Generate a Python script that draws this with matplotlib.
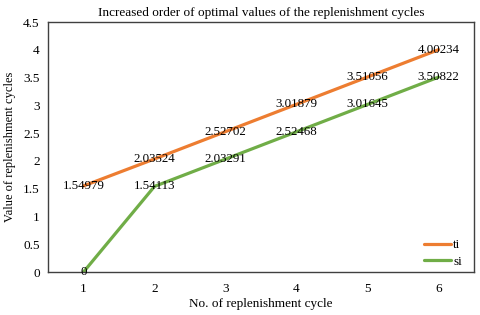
import matplotlib
matplotlib.use("Agg")
import matplotlib.pyplot as plt

cycles = [1, 2, 3, 4, 5, 6]
ti = [1.54979, 2.03524, 2.52702, 3.01879, 3.51056, 4.00234]
si = [0, 1.54113, 2.03291, 2.52468, 3.01645, 3.50822]
labels_ti = ["1.54979", "2.03524", "2.52702", "3.01879", "3.51056", "4.00234"]
labels_si = ["0", "1.54113", "2.03291", "2.52468", "3.01645", "3.50822"]

plt.rcParams['font.family'] = ['Liberation Serif', 'DejaVu Serif']

fig = plt.figure(figsize=(4.8, 3.15), dpi=100)
ax = fig.add_axes([0.1, 0.1365, 0.8875, 0.7935])

ax.plot(cycles, ti, color='#ED7D31', lw=2.3, label='ti', solid_capstyle='round')
ax.plot(cycles, si, color='#70AD47', lw=2.3, label='si', solid_capstyle='round')

for x, y, s in zip(cycles, ti, labels_ti):
    ax.text(x, y, s, ha='center', va='center', fontsize=9.3)
for x, y, s in zip(cycles, si, labels_si):
    ax.text(x, y, s, ha='center', va='center', fontsize=9.3)

ax.set_xlim(0.5, 6.5)
ax.set_ylim(0, 4.5)
ax.set_xticks(cycles)
ax.set_yticks([0, 0.5, 1, 1.5, 2, 2.5, 3, 3.5, 4, 4.5])
ax.set_yticklabels(["0", "0.5", "1", "1.5", "2", "2.5", "3", "3.5", "4", "4.5"])
ax.tick_params(length=0, labelsize=9.5)
ax.tick_params(axis='x', pad=8)
ax.tick_params(axis='y', pad=6)
for sp in ax.spines.values():
    sp.set_color('#404040')
    sp.set_linewidth(1.0)

ax.set_title('Increased order of optimal values of the replenishment cycles', fontsize=9.5, pad=4)
ax.set_xlabel('No. of replenishment cycle', fontsize=9.5, labelpad=2)
ax.set_ylabel('Value of replenishment cycles', fontsize=9, labelpad=5)

ax.legend(loc='lower right', frameon=False, fontsize=9.5, handlelength=2.0,
          handletextpad=0.2, labelspacing=0.3, bbox_to_anchor=(1.0, -0.03))

fig.savefig('out.png', dpi=100)
